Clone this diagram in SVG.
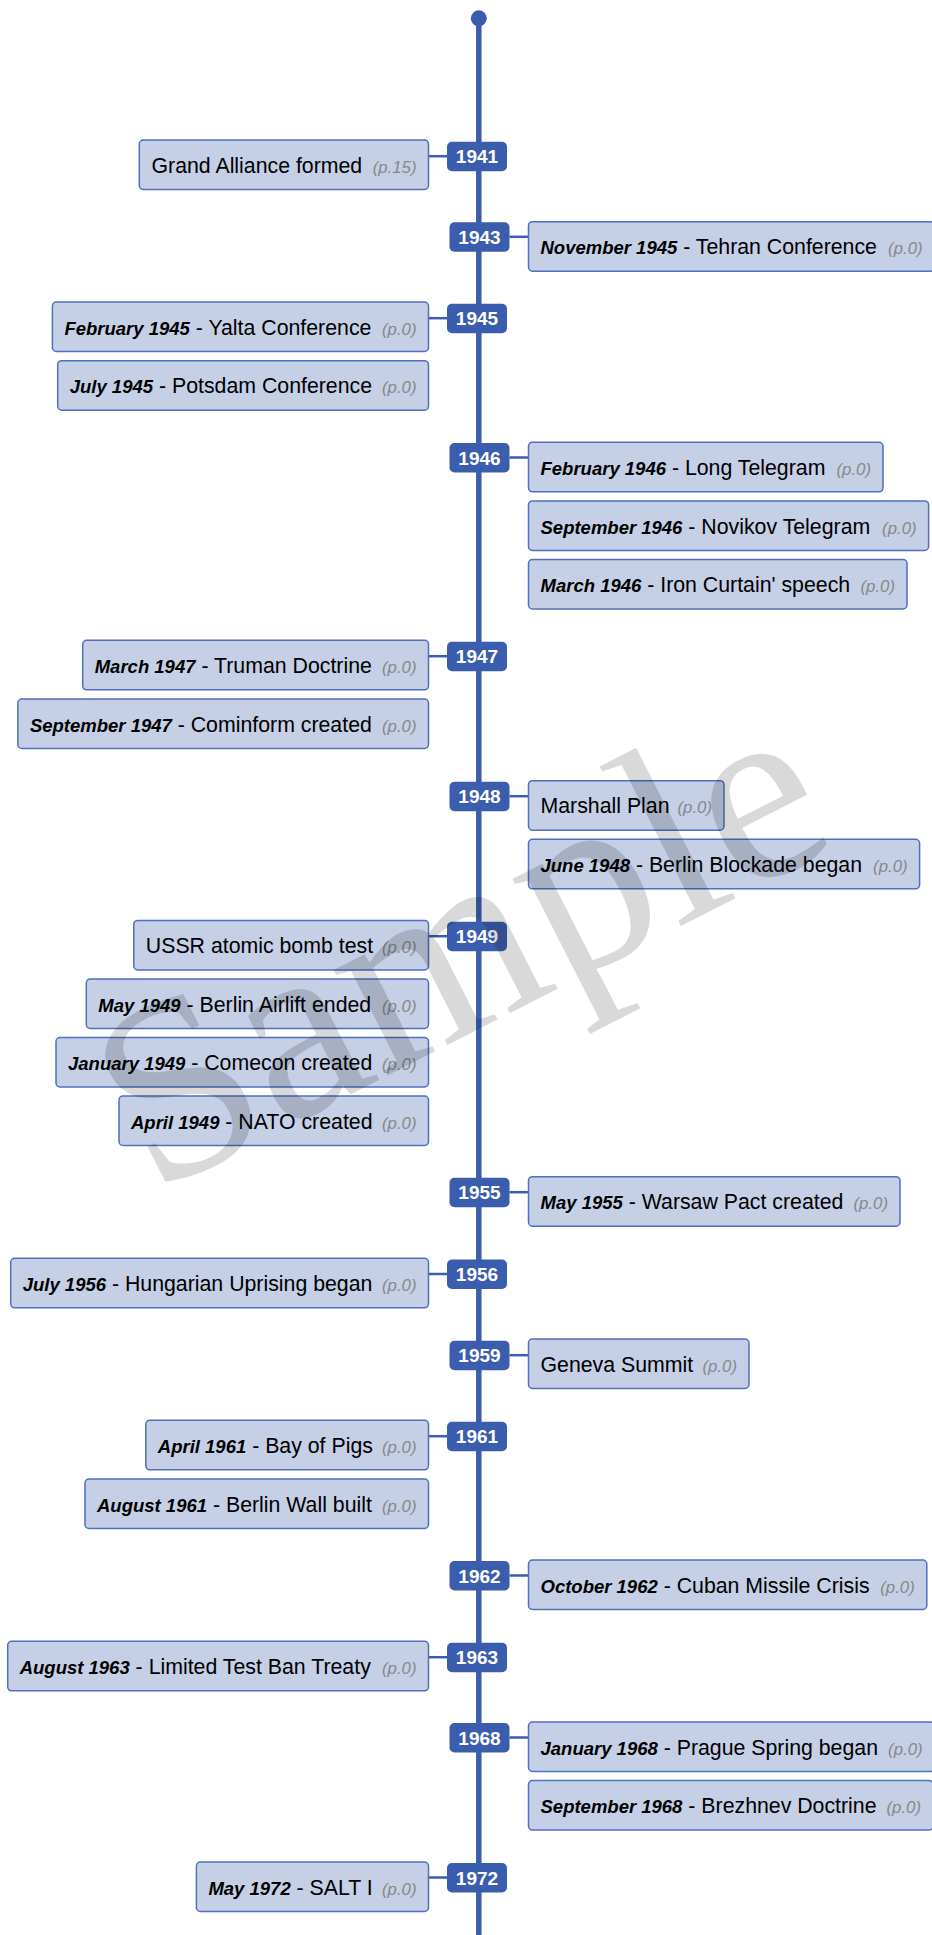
<svg xmlns="http://www.w3.org/2000/svg" width="932" height="1935" viewBox="0 0 932 1935">
<style>
.box{fill:#c5cfe6;stroke:#4f6fbf;stroke-width:1.5}
.t{font-family:"Liberation Sans",Arial,sans-serif;font-size:21.3px;fill:#000}
.d{font-weight:bold;font-style:italic;font-size:18.5px}
.p{font-family:"Liberation Sans",Arial,sans-serif;font-size:16.8px;font-style:italic;fill:#888;text-anchor:end}
.badge{fill:#3b5dad}
.by{font-family:"Liberation Sans",Arial,sans-serif;font-size:19px;font-weight:bold;fill:#fff;text-anchor:middle}
.conn{stroke:#3b5dad;stroke-width:2.5;fill:none}
.wm{font-family:"Liberation Serif","Times New Roman",serif;font-size:258px;fill:#000;fill-opacity:0.15;text-anchor:middle}
</style>
<g id="connectors">
<line x1="478.8" y1="18" x2="478.8" y2="1935" stroke="#3b5dad" stroke-width="5.5"/>
<circle cx="478.8" cy="18.3" r="8" fill="#3b5dad"/>
<line class="conn" x1="428.5" y1="156.2" x2="447" y2="156.2"/>
<line class="conn" x1="509.5" y1="236.8" x2="528.5" y2="236.8"/>
<line class="conn" x1="428.5" y1="318.2" x2="447" y2="318.2"/>
<line class="conn" x1="509.5" y1="457.5" x2="528.5" y2="457.5"/>
<line class="conn" x1="428.5" y1="656.2" x2="447" y2="656.2"/>
<line class="conn" x1="509.5" y1="796.2" x2="528.5" y2="796.2"/>
<line class="conn" x1="428.5" y1="936.2" x2="447" y2="936.2"/>
<line class="conn" x1="509.5" y1="1192.2" x2="528.5" y2="1192.2"/>
<line class="conn" x1="428.5" y1="1274" x2="447" y2="1274"/>
<line class="conn" x1="509.5" y1="1355.2" x2="528.5" y2="1355.2"/>
<line class="conn" x1="428.5" y1="1436.2" x2="447" y2="1436.2"/>
<line class="conn" x1="509.5" y1="1575.5" x2="528.5" y2="1575.5"/>
<line class="conn" x1="428.5" y1="1657.2" x2="447" y2="1657.2"/>
<line class="conn" x1="509.5" y1="1737.5" x2="528.5" y2="1737.5"/>
<line class="conn" x1="428.5" y1="1877.5" x2="447" y2="1877.5"/>
</g>
<g id="y1941"><rect class="badge" x="447" y="141.7" width="60" height="29.5" rx="5"/><text class="by" x="477" y="163.3">1941</text></g>
<g id="y1943"><rect class="badge" x="449.5" y="222.3" width="60" height="29.5" rx="5"/><text class="by" x="479.5" y="243.9">1943</text></g>
<g id="y1945"><rect class="badge" x="447" y="303.7" width="60" height="29.5" rx="5"/><text class="by" x="477" y="325.3">1945</text></g>
<g id="y1946"><rect class="badge" x="449.5" y="443" width="60" height="29.5" rx="5"/><text class="by" x="479.5" y="464.6">1946</text></g>
<g id="y1947"><rect class="badge" x="447" y="641.7" width="60" height="29.5" rx="5"/><text class="by" x="477" y="663.3">1947</text></g>
<g id="y1948"><rect class="badge" x="449.5" y="781.7" width="60" height="29.5" rx="5"/><text class="by" x="479.5" y="803.3">1948</text></g>
<g id="y1949"><rect class="badge" x="447" y="921.7" width="60" height="29.5" rx="5"/><text class="by" x="477" y="943.3">1949</text></g>
<g id="y1955"><rect class="badge" x="449.5" y="1177.7" width="60" height="29.5" rx="5"/><text class="by" x="479.5" y="1199.3">1955</text></g>
<g id="y1956"><rect class="badge" x="447" y="1259.5" width="60" height="29.5" rx="5"/><text class="by" x="477" y="1281.1">1956</text></g>
<g id="y1959"><rect class="badge" x="449.5" y="1340.7" width="60" height="29.5" rx="5"/><text class="by" x="479.5" y="1362.3">1959</text></g>
<g id="y1961"><rect class="badge" x="447" y="1421.7" width="60" height="29.5" rx="5"/><text class="by" x="477" y="1443.3">1961</text></g>
<g id="y1962"><rect class="badge" x="449.5" y="1561" width="60" height="29.5" rx="5"/><text class="by" x="479.5" y="1582.6">1962</text></g>
<g id="y1963"><rect class="badge" x="447" y="1642.7" width="60" height="29.5" rx="5"/><text class="by" x="477" y="1664.3">1963</text></g>
<g id="y1968"><rect class="badge" x="449.5" y="1723" width="60" height="29.5" rx="5"/><text class="by" x="479.5" y="1744.6">1968</text></g>
<g id="y1972"><rect class="badge" x="447" y="1863" width="60" height="29.5" rx="5"/><text class="by" x="477" y="1884.6">1972</text></g>

<g id="ev-grand-alliance"><rect class="box" x="139.3" y="140" width="289.2" height="49.5" rx="4"/><text class="t" x="151.5" y="172.6">Grand Alliance formed</text><text class="p" x="416.5" y="172.6">(p.15)</text></g>
<g id="ev-tehran"><rect class="box" x="528.5" y="221.7" width="406" height="49.5" rx="4"/><text class="t" x="540.5" y="254.3"><tspan class="d">November 1945</tspan> - Tehran Conference</text><text class="p" x="922.6" y="254.3">(p.0)</text></g>
<g id="ev-yalta"><rect class="box" x="52.4" y="302" width="376.1" height="49.5" rx="4"/><text class="t" x="64.4" y="334.6"><tspan class="d">February 1945</tspan> - Yalta Conference</text><text class="p" x="416.5" y="334.6">(p.0)</text></g>
<g id="ev-potsdam"><rect class="box" x="57.7" y="360.7" width="370.8" height="49.5" rx="4"/><text class="t" x="69.7" y="393.3"><tspan class="d">July 1945</tspan> - Potsdam Conference</text><text class="p" x="416.5" y="393.3">(p.0)</text></g>
<g id="ev-long-telegram"><rect class="box" x="528.5" y="442.3" width="354.5" height="49.5" rx="4"/><text class="t" x="540.5" y="474.9"><tspan class="d">February 1946</tspan> - Long Telegram</text><text class="p" x="871" y="474.9">(p.0)</text></g>
<g id="ev-novikov"><rect class="box" x="528.5" y="500.9" width="400.1" height="49.5" rx="4"/><text class="t" x="540.5" y="533.5"><tspan class="d">September 1946</tspan> - Novikov Telegram</text><text class="p" x="916.6" y="533.5">(p.0)</text></g>
<g id="ev-iron-curtain"><rect class="box" x="528.5" y="559.5" width="378.5" height="49.5" rx="4"/><text class="t" x="540.5" y="592.1"><tspan class="d">March 1946</tspan> - Iron Curtain' speech</text><text class="p" x="895" y="592.1">(p.0)</text></g>
<g id="ev-truman"><rect class="box" x="82.7" y="640.3" width="345.8" height="49.5" rx="4"/><text class="t" x="94.7" y="672.9"><tspan class="d">March 1947</tspan> - Truman Doctrine</text><text class="p" x="416.5" y="672.9">(p.0)</text></g>
<g id="ev-cominform"><rect class="box" x="17.9" y="699" width="410.6" height="49.5" rx="4"/><text class="t" x="29.9" y="731.6"><tspan class="d">September 1947</tspan> - Cominform created</text><text class="p" x="416.5" y="731.6">(p.0)</text></g>
<g id="ev-marshall"><rect class="box" x="528.5" y="780.7" width="195.5" height="49.5" rx="4"/><text class="t" x="540.5" y="813.3">Marshall Plan</text><text class="p" x="712" y="813.3">(p.0)</text></g>
<g id="ev-blockade"><rect class="box" x="528.5" y="839.3" width="391.1" height="49.5" rx="4"/><text class="t" x="540.5" y="871.9"><tspan class="d">June 1948</tspan> - Berlin Blockade began</text><text class="p" x="907.6" y="871.9">(p.0)</text></g>
<g id="ev-ussr-bomb"><rect class="box" x="133.8" y="920.4" width="294.7" height="49.5" rx="4"/><text class="t" x="145.8" y="953">USSR atomic bomb test</text><text class="p" x="416.5" y="953">(p.0)</text></g>
<g id="ev-airlift"><rect class="box" x="86.3" y="979" width="342.2" height="49.5" rx="4"/><text class="t" x="98.3" y="1011.6"><tspan class="d">May 1949</tspan> - Berlin Airlift ended</text><text class="p" x="416.5" y="1011.6">(p.0)</text></g>
<g id="ev-comecon"><rect class="box" x="56" y="1037.5" width="372.5" height="49.5" rx="4"/><text class="t" x="68" y="1070.1"><tspan class="d">January 1949</tspan> - Comecon created</text><text class="p" x="416.5" y="1070.1">(p.0)</text></g>
<g id="ev-nato"><rect class="box" x="119" y="1096" width="309.5" height="49.5" rx="4"/><text class="t" x="131" y="1128.6"><tspan class="d">April 1949</tspan> - NATO created</text><text class="p" x="416.5" y="1128.6">(p.0)</text></g>
<g id="ev-warsaw"><rect class="box" x="528.5" y="1176.7" width="371.5" height="49.5" rx="4"/><text class="t" x="540.5" y="1209.3"><tspan class="d">May 1955</tspan> - Warsaw Pact created</text><text class="p" x="888" y="1209.3">(p.0)</text></g>
<g id="ev-hungary"><rect class="box" x="10.7" y="1258.3" width="417.8" height="49.5" rx="4"/><text class="t" x="22.7" y="1290.9"><tspan class="d">July 1956</tspan> - Hungarian Uprising began</text><text class="p" x="416.5" y="1290.9">(p.0)</text></g>
<g id="ev-geneva"><rect class="box" x="528.5" y="1339" width="220.5" height="49.5" rx="4"/><text class="t" x="540.5" y="1371.6">Geneva Summit</text><text class="p" x="737" y="1371.6">(p.0)</text></g>
<g id="ev-bay-of-pigs"><rect class="box" x="145.8" y="1420.3" width="282.7" height="49.5" rx="4"/><text class="t" x="157.8" y="1452.9"><tspan class="d">April 1961</tspan> - Bay of Pigs</text><text class="p" x="416.5" y="1452.9">(p.0)</text></g>
<g id="ev-berlin-wall"><rect class="box" x="85" y="1479" width="343.5" height="49.5" rx="4"/><text class="t" x="97" y="1511.6"><tspan class="d">August 1961</tspan> - Berlin Wall built</text><text class="p" x="416.5" y="1511.6">(p.0)</text></g>
<g id="ev-cuba"><rect class="box" x="528.5" y="1560" width="398.3" height="49.5" rx="4"/><text class="t" x="540.5" y="1592.6"><tspan class="d">October 1962</tspan> - Cuban Missile Crisis</text><text class="p" x="914.8" y="1592.6">(p.0)</text></g>
<g id="ev-test-ban"><rect class="box" x="7.7" y="1641.3" width="420.8" height="49.5" rx="4"/><text class="t" x="19.7" y="1673.9"><tspan class="d">August 1963</tspan> - Limited Test Ban Treaty</text><text class="p" x="416.5" y="1673.9">(p.0)</text></g>
<g id="ev-prague"><rect class="box" x="528.5" y="1722" width="406" height="49.5" rx="4"/><text class="t" x="540.5" y="1754.6"><tspan class="d">January 1968</tspan> - Prague Spring began</text><text class="p" x="922.6" y="1754.6">(p.0)</text></g>
<g id="ev-brezhnev"><rect class="box" x="528.5" y="1780.6" width="404.5" height="49.5" rx="4"/><text class="t" x="540.5" y="1813.2"><tspan class="d">September 1968</tspan> - Brezhnev Doctrine</text><text class="p" x="921" y="1813.2">(p.0)</text></g>
<g id="ev-salt"><rect class="box" x="196.4" y="1862" width="232.1" height="49.5" rx="4"/><text class="t" x="208.4" y="1894.6"><tspan class="d">May 1972</tspan> - SALT I</text><text class="p" x="416.5" y="1894.6">(p.0)</text></g>

<text class="wm" x="462" y="1028" transform="rotate(-27 462 950)">Sample</text>
</svg>
